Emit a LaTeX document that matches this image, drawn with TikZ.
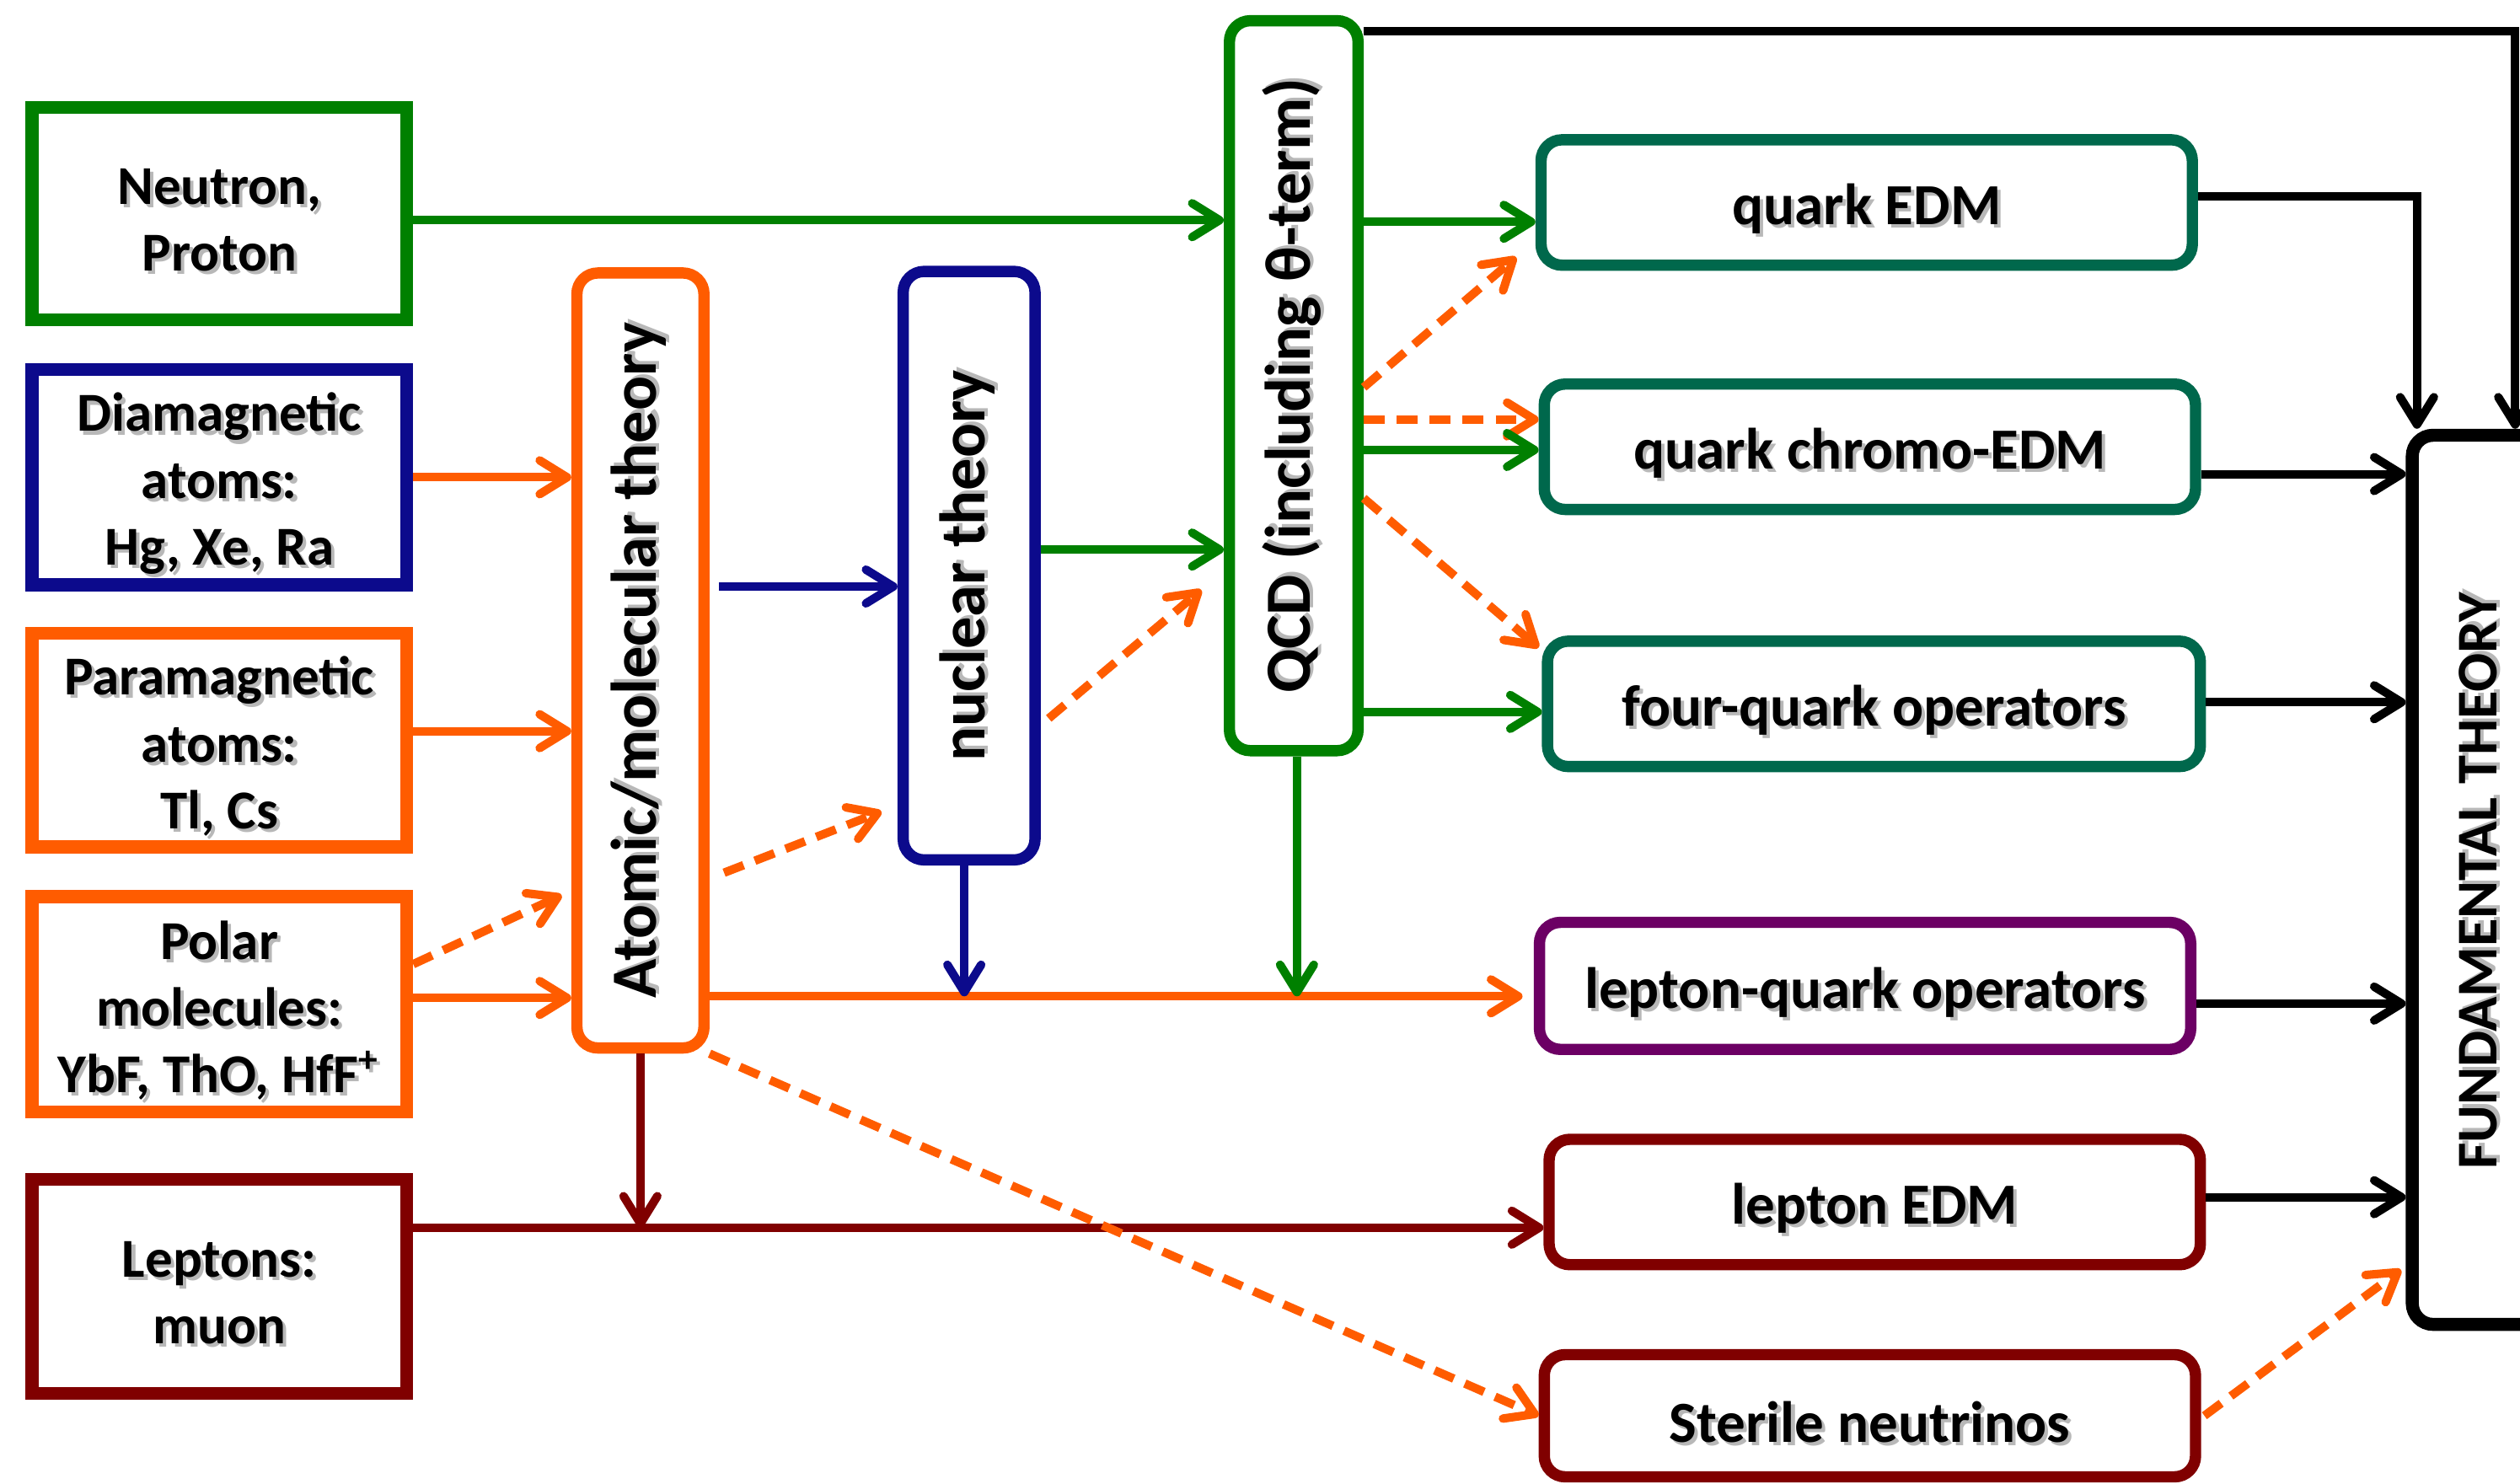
\documentclass[tikz,border=0pt]{standalone}
\usepackage{fontspec}
\setmainfont{Carlito}
\usetikzlibrary{arrows.meta,calc}
\definecolor{cgreen}{RGB}{0,128,0}
\definecolor{cblue}{RGB}{12,10,140}
\definecolor{corange}{RGB}{255,92,0}
\definecolor{cdred}{RGB}{128,0,0}
\definecolor{cteal}{RGB}{0,104,76}
\definecolor{cpurple}{RGB}{108,0,100}
% text with a soft grey drop shadow (horizontal labels sit a little low)
\newcommand\shd[1]{\raisebox{-1.4pt}[\height][\depth]{\rlap{\kern0.6pt\raisebox{-0.6pt}{\textcolor{black!28}{#1}}}#1}}
\newcommand\shdr[1]{\rlap{\kern0.6pt\raisebox{-0.6pt}{\textcolor{black!28}{#1}}}#1}
\tikzset{
  lbl/.style={font=\bfseries, align=center},
  sqbox/.style={lbl, font=\bfseries\fontsize{9.7}{11.8}\selectfont, draw, line width=2.3pt, fill=white, inner sep=0pt, minimum width=2.33cm},
  rbox/.style={lbl, draw, line width=2pt, rounded corners=0.13cm, fill=white, inner sep=0pt},
  vbox/.style={rbox, font=\bfseries\fontsize{11.4}{13}\selectfont, minimum width=0.8cm},
  hbox/.style={rbox, font=\bfseries\fontsize{10.3}{12}\selectfont, minimum width=4.05cm, minimum height=0.78cm},
  conn/.style={line width=1.5pt, -{Straight Barb[length=1.7mm,width=2.1mm,round]}},
  dsh/.style={dash pattern=on 0.13cm off 0.075cm}
}
\begin{document}
\begin{tikzpicture}[x=0.01cm,y=-0.01cm]
\useasboundingbox (0,0) rectangle (1568,923);
\clip (0,0) rectangle (1568,923);

% experimental systems
\node[sqbox, draw=cgreen, minimum height=1.32cm] (neutron) at (136.5,133) {\shd{Neutron,}\\\shd{Proton}};
\node[sqbox, draw=cblue, minimum height=1.34cm] (dia) at (136.5,297) {\shd{Diamagnetic}\\\shd{atoms:}\\\shd{Hg, Xe, Ra}};
\node[sqbox, draw=corange, minimum height=1.33cm] (para) at (136.5,460.5) {\shd{Paramagnetic}\\\shd{atoms:}\\\shd{Tl, Cs}};
\node[sqbox, draw=corange, minimum height=1.34cm] (polar) at (136.5,625) {\shd{Polar}\\\shd{molecules:}\\\shd{YbF, ThO, HfF\textsuperscript{+}}};
\node[sqbox, draw=cdred, minimum height=1.33cm] (lept) at (136.5,800.5) {\shd{Leptons:}\\\shd{muon}};

% theory layers
\node[vbox, draw=corange, minimum width=0.79cm, minimum height=4.82cm] (atomic) at (398.5,411) {\rotatebox{90}{\shdr{Atomic/molecular theory}}};
\node[vbox, draw=cblue, minimum width=0.82cm, minimum height=3.66cm] (nuclear) at (603,352) {\rotatebox{90}{\shdr{nuclear theory}}};
\node[vbox, draw=cgreen, minimum width=0.80cm, minimum height=4.54cm] (qcd) at (805,240) {\rotatebox{90}{\shdr{QCD (including θ-term)}}};

% effective operators
\node[hbox, draw=cteal] (qedm) at (1161.5,126) {\shd{quark EDM}};
\node[hbox, draw=cteal] (chromo) at (1163.5,278) {\shd{quark chromo-EDM}};
\node[hbox, draw=cteal, minimum width=4.06cm] (four) at (1166,438) {\shd{four-quark operators}};
\node[hbox, draw=cpurple, minimum height=0.79cm] (lq) at (1160.5,613.5) {\shd{lepton-quark operators}};
\node[hbox, draw=cdred] (ledm) at (1166.5,748) {\shd{lepton EDM}};
\node[hbox, draw=cdred, minimum height=0.76cm] (sterile) at (1163.5,881) {\shd{Sterile neutrinos}};

% fundamental theory
\node[rbox, draw=black, line width=2.3pt, minimum width=1.2cm, minimum height=5.53cm] (FT) at (1561,547.5) {};
\node[lbl, font=\bfseries\fontsize{10.2}{12}\selectfont] (ftl) at (1543,548) {\rotatebox{90}{\shdr{FUNDAMENTAL THEORY}}};

% connectors: experiments to theory
\draw[conn,cgreen] ([xshift=-0.08cm,yshift=-0.04cm]neutron.east) -- ([yshift=-0.04cm]neutron.east -| qcd.west);
\draw[conn,corange] (dia.east) -- (dia.east -| atomic.west);
\draw[conn,corange] ([yshift=0.055cm]para.east) -- ([yshift=0.055cm]para.east -| atomic.west);
\draw[conn,corange] ([yshift=0.04cm]polar.east) -- ([yshift=0.04cm]polar.east -| atomic.west);
\draw[conn,dsh,corange] ([yshift=0.25cm]polar.east) -- ([xshift=-0.06cm,yshift=-1.46cm]atomic.west);
\draw[conn,cblue] ([xshift=0.06cm,yshift=0.46cm]atomic.east) -- ([yshift=0.46cm]atomic.east -| nuclear.west);
\draw[conn,dsh,corange] ([xshift=0.09cm,yshift=-1.32cm]atomic.east) -- ([xshift=-0.10cm,yshift=-1.53cm]nuclear.west);
\draw[conn,cgreen] ([yshift=0.10cm]nuclear.east) -- ([yshift=0.10cm]nuclear.east -| qcd.west);
\draw[conn,dsh,corange] ([xshift=0.05cm,yshift=-0.95cm]nuclear.east) -- ([xshift=-0.14cm,yshift=-1.27cm]qcd.west);

% connectors: QCD to operators
\draw[conn,cgreen] ([yshift=-0.12cm]qedm.west -| qcd.east) -- ([yshift=-0.12cm]qedm.west);
\draw[conn,dsh,corange] ([yshift=-0.01cm]qcd.east) -- ([xshift=-0.12cm,yshift=-0.34cm]qedm.west);
\draw[conn,dsh,corange] ([yshift=0.17cm]chromo.west -| qcd.east) -- ([yshift=0.17cm]chromo.west);
\draw[conn,cgreen] ([yshift=-0.02cm]chromo.west -| qcd.east) -- ([yshift=-0.02cm]chromo.west);
\draw[conn,dsh,corange] ([yshift=-0.70cm]qcd.east) -- ([xshift=-0.02cm,yshift=0.35cm]four.west);
\draw[conn,cgreen] ([yshift=-0.05cm]four.west -| qcd.east) -- ([yshift=-0.05cm]four.west);

% connectors: into the lepton sector
\draw[conn,corange] ([yshift=-0.065cm]lq.west -| atomic.east) -- ([xshift=-0.07cm,yshift=-0.065cm]lq.west);
\draw[conn,cgreen] ([xshift=0.02cm]qcd.south) -- ([xshift=0.02cm,yshift=-0.065cm]qcd.south |- lq.west);
\draw[conn,cblue] ([xshift=-0.03cm]nuclear.south) -- ([xshift=-0.03cm,yshift=-0.065cm]nuclear.south |- lq.west);
\draw[conn,cdred] (atomic.south) -- ([yshift=-0.16cm]atomic.south |- ledm.west);
\draw[conn,cdred] ([yshift=0.365cm]lept.east) -- ([yshift=0.365cm]lept.east -| ledm.west);
\draw[conn,dsh,corange] (atomic.south east) -- (sterile.west);

% connectors: operators to fundamental theory
\draw[conn,black] ([yshift=0.04cm]qedm.east) -| ([xshift=0.07cm]FT.north west);
\draw[conn,black] ([yshift=-0.10cm]qcd.north east) -| ([xshift=0.04cm]FT.north);
\draw[conn,black] ([yshift=-0.17cm]chromo.east) -- ([yshift=-0.17cm]chromo.east -| FT.west);
\draw[conn,black] ([yshift=0.01cm]four.east) -- ([yshift=0.01cm]four.east -| FT.west);
\draw[conn,black] ([yshift=-0.11cm]lq.east) -- ([yshift=-0.11cm]lq.east -| FT.west);
\draw[conn,black] ([yshift=0.03cm]ledm.east) -- ([yshift=0.03cm]ledm.east -| FT.west);
\draw[conn,dsh,corange] ([xshift=0.02cm]sterile.east) -- ([xshift=-0.03cm,yshift=-2.425cm]FT.west);
\end{tikzpicture}
\end{document}
